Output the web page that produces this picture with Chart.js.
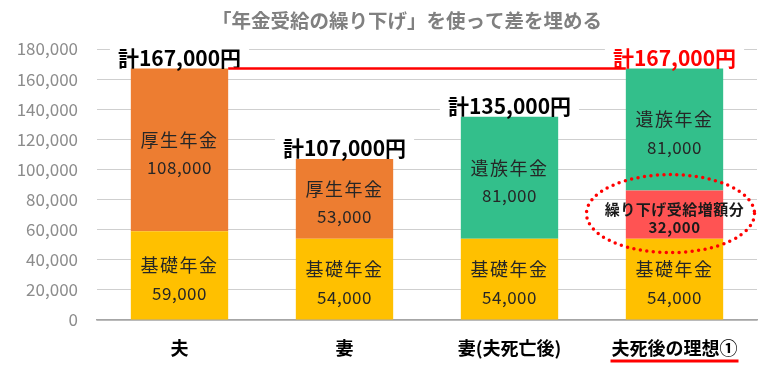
<!DOCTYPE html>
<html>
<head>
<meta charset="utf-8">
<script src="https://cdn.jsdelivr.net/npm/chart.js@4"></script>
<style>
  html, body { margin: 0; padding: 0; background: #fff; }
  #wrap { width: 761px; height: 369px; }
</style>
</head>
<body>
<div id="wrap"><canvas id="chartNenkin" width="761" height="369"></canvas></div>
<script>
const FONT = '"Noto Sans CJK JP", "Noto Sans", sans-serif';

const titleText = '「年金受給の繰り下げ」を使って差を埋める';
const categories = ['夫', '妻', '妻(夫死亡後)', '夫死後の理想①'];
const kisoNenkin = [59000, 54000, 54000, 54000];      // 基礎年金
const kouseiNenkin = [108000, 53000, null, null];     // 厚生年金
const kurisageZougaku = [null, null, null, 32000];    // 繰り下げ受給増額分
const izokuNenkin = [null, null, 81000, 81000];       // 遺族年金
const yTicks = [0, 20000, 40000, 60000, 80000, 100000, 120000, 140000, 160000, 180000];

const totals = categories.map((c, i) =>
  (kisoNenkin[i] || 0) + (kouseiNenkin[i] || 0) + (kurisageZougaku[i] || 0) + (izokuNenkin[i] || 0));

const fmt = v => v.toLocaleString('en-US');

// labels inside the bars, total labels, red line, ellipse, title
const annotate = {
  id: 'annotate',
  afterDatasetsDraw(chart) {
    const ctx = chart.ctx;
    const yScale = chart.scales.y;
    ctx.save();
    ctx.textAlign = 'center';
    ctx.textBaseline = 'middle';

    chart.data.datasets.forEach((ds, di) => {
      const meta = chart.getDatasetMeta(di);
      meta.data.forEach((el, i) => {
        const v = ds.data[i];
        if (!v) return;
        const cy = (el.y + el.base) / 2;
        if (ds.small) {
          ctx.fillStyle = '#1a1a1a';
          ctx.font = 'bold 15px ' + FONT;
          ctx.letterSpacing = '0.5px';
          ctx.fillText(ds.label, el.x, cy - 5);
          ctx.fillText(fmt(v), el.x, cy + 13);
        } else {
          ctx.fillStyle = '#262626';
          ctx.font = '18px ' + FONT;
          ctx.letterSpacing = '1.5px';
          ctx.fillText(ds.label, el.x, cy - 10);
          ctx.letterSpacing = '0.5px';
          ctx.font = '17px ' + FONT;
          ctx.fillText(fmt(v), el.x, cy + 18);
        }
        ctx.letterSpacing = '0px';
      });
    });

    // totals
    const meta0 = chart.getDatasetMeta(0);
    ctx.font = 'bold 21px ' + FONT;
    totals.forEach((t, i) => {
      const x = meta0.data[i].x;
      const y = yScale.getPixelForValue(t) - 11;
      const txt = '計' + fmt(t) + '円';
      const w = ctx.measureText(txt).width;
      ctx.fillStyle = '#fff';
      ctx.fillRect(x - w / 2 - 8, y - 13, w + 16, 23);
      ctx.fillStyle = i === totals.length - 1 ? '#ff0000' : '#000';
      ctx.fillText(txt, x, y);
    });

    // red line at the target total
    const first = meta0.data[0];
    const last = meta0.data[meta0.data.length - 1];
    const ly = yScale.getPixelForValue(totals[0]);
    ctx.strokeStyle = '#ff0000';
    ctx.lineWidth = 2.5;
    ctx.beginPath();
    ctx.moveTo(first.x + first.width / 2, ly);
    ctx.lineTo(last.x - last.width / 2, ly);
    ctx.stroke();

    // dotted ellipse round the 繰り下げ segment
    const red = chart.getDatasetMeta(2).data[3];
    const ecy = (red.y + red.base) / 2 - 1;
    ctx.setLineDash([0, 6.5]);
    ctx.lineCap = 'round';
    ctx.lineWidth = 3.5;
    ctx.beginPath();
    ctx.ellipse(red.x - 4, ecy, 84, 39, 0, 0, Math.PI * 2);
    ctx.stroke();
    ctx.setLineDash([]);

    // underline under the last category
    const xs = chart.scales.x;
    ctx.font = 'bold 18px ' + FONT;
    const uw = ctx.measureText(categories[3]).width;
    const ux = xs.getPixelForValue(3);
    ctx.lineWidth = 3;
    ctx.lineCap = 'butt';
    ctx.beginPath();
    ctx.moveTo(ux - uw / 2 - 1, 361);
    ctx.lineTo(ux + uw / 2 + 1, 361);
    ctx.stroke();

    // title
    ctx.fillStyle = '#808080';
    ctx.font = 'bold 19.5px ' + FONT;
    ctx.fillText(titleText, 407, 21);
    ctx.restore();
  }
};

new Chart(document.getElementById('chartNenkin'), {
  type: 'bar',
  data: {
    labels: categories,
    datasets: [
      { label: '基礎年金', data: kisoNenkin, backgroundColor: '#ffc000' },
      { label: '厚生年金', data: kouseiNenkin, backgroundColor: '#ed7d31' },
      { label: '繰り下げ受給増額分', data: kurisageZougaku, backgroundColor: '#ff5353', small: true },
      { label: '遺族年金', data: izokuNenkin, backgroundColor: '#33bf8b' }
    ]
  },
  options: {
    responsive: false,
    animation: false,
    devicePixelRatio: 1,
    layout: { padding: { top: 49, right: 4, left: 0, bottom: 0 } },
    datasets: { bar: { barPercentage: 0.59, categoryPercentage: 1 } },
    plugins: {
      legend: { display: false },
      tooltip: { enabled: false }
    },
    scales: {
      x: {
        stacked: true,
        grid: { display: false, drawTicks: false },
        border: { color: '#a6a6a6', width: 1.5 },
        ticks: { color: '#000', padding: 17, font: { family: FONT, size: 18, weight: 'bold' } },
        afterFit(scale) { scale.height = 49; }
      },
      y: {
        stacked: true,
        min: 0,
        max: 180000,
        afterBuildTicks(scale) { scale.ticks = yTicks.map(v => ({ value: v })); },
        grid: { color: '#cfcfcf', lineWidth: 1, drawTicks: false },
        border: { display: false },
        ticks: {
          color: '#8c8c8c',
          padding: 19,
          font: { family: FONT, size: 17 },
          callback: v => fmt(v)
        },
        afterFit(scale) { scale.width = 97; }
      }
    }
  },
  plugins: [annotate]
});
</script>
</body>
</html>
